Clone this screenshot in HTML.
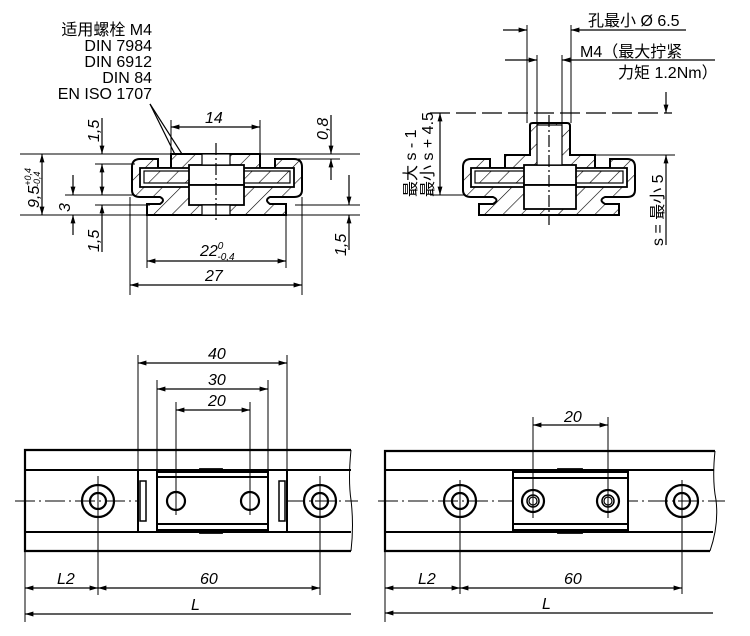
<!DOCTYPE html>
<html><head><meta charset="utf-8"><style>
html,body{margin:0;padding:0;background:#fff}
svg{display:block}
text{font-family:"Liberation Sans","Noto Sans CJK SC",sans-serif;fill:#000}
</style></head><body>
<svg width="750" height="636" viewBox="0 0 750 636" xmlns="http://www.w3.org/2000/svg">
<defs>
<pattern id="h" patternUnits="userSpaceOnUse" width="13" height="13" patternTransform="rotate(45)">
<rect width="13" height="13" fill="#fff"/><line x1="0" y1="0" x2="0" y2="13" stroke="#000" stroke-width="1.2"/></pattern>
<marker id="a" viewBox="0 0 12 10" refX="12" refY="5" markerWidth="12" markerHeight="7" orient="auto-start-reverse" markerUnits="userSpaceOnUse"><path d="M0,1.5 L12,5 L0,8.5z" fill="#000"/></marker>
</defs>
<g font-size="16" text-anchor="end">
<text x="152" y="35">适用螺栓 M4</text>
<text x="152" y="51">DIN 7984</text>
<text x="152" y="67">DIN 6912</text>
<text x="152" y="83">DIN 84</text>
<text x="152" y="99">EN ISO 1707</text>
</g>
<g stroke="#000" fill="none" stroke-width="1.2">
<line x1="150" y1="104" x2="205" y2="190"/><line x1="150" y1="104" x2="200" y2="205"/>

<!-- TL part -->
<path d="M140,159 H158 V168 H171 V154 H260 V168 H275 V159 H294 Q302,159 302,167 V190 Q302,197 294,197 H270 Q264,200 270,204 H286 V215 H147 V204 H160 Q166,200 160,197 H140 Q132,197 132,190 V167 Q132,159 140,159Z" fill="url(#h)" stroke-width="2"/>
<rect x="140" y="168" width="154" height="19" fill="#fff" stroke-width="1.8"/>
<rect x="144" y="171" width="146" height="12" fill="url(#h)" stroke-width="1.2"/>
<rect x="189" y="165" width="55" height="20" fill="#fff" stroke-width="1.8"/>
<rect x="189" y="185" width="55" height="20" fill="#fff" stroke-width="1.8"/>
<rect x="202" y="154" width="28" height="11" fill="#fff"/>
<rect x="202" y="205" width="28" height="10" fill="#fff"/>
<line x1="216" y1="143" x2="216" y2="222" stroke-dasharray="12,3,2,3"/>
<!-- TL dims -->
<line x1="20" y1="154" x2="360" y2="154" stroke-width="1"/>
<line x1="20" y1="215" x2="360" y2="215" stroke-width="1"/>
<line x1="95" y1="164" x2="135" y2="164" stroke-width="1"/>
<line x1="65" y1="195" x2="135" y2="195" stroke-width="1"/>
<line x1="95" y1="205" x2="150" y2="205" stroke-width="1"/>
<line x1="295" y1="159" x2="340" y2="159" stroke-width="1"/>
<line x1="295" y1="205" x2="360" y2="205" stroke-width="1"/>
<line x1="42" y1="154" x2="42" y2="215" marker-start="url(#a)" marker-end="url(#a)"/>
<line x1="73" y1="175" x2="73" y2="195" marker-end="url(#a)"/>
<line x1="73" y1="235" x2="73" y2="215" marker-end="url(#a)"/>
<line x1="102" y1="118" x2="102" y2="154" marker-end="url(#a)"/>
<line x1="102" y1="164" x2="102" y2="195" marker-start="url(#a)" marker-end="url(#a)"/>
<line x1="102" y1="252" x2="102" y2="205" marker-end="url(#a)"/>
<line x1="331" y1="115" x2="331" y2="154" marker-end="url(#a)"/>
<line x1="331" y1="180" x2="331" y2="159" marker-end="url(#a)"/>
<line x1="349" y1="175" x2="349" y2="205" marker-end="url(#a)"/>
<line x1="349" y1="250" x2="349" y2="215" marker-end="url(#a)"/>
<line x1="171" y1="120" x2="171" y2="154" stroke-width="1"/>
<line x1="260" y1="120" x2="260" y2="154" stroke-width="1"/>
<line x1="171" y1="127" x2="260" y2="127" marker-start="url(#a)" marker-end="url(#a)"/>
<line x1="147" y1="215" x2="147" y2="268" stroke-width="1"/>
<line x1="286" y1="215" x2="286" y2="268" stroke-width="1"/>
<line x1="147" y1="261" x2="286" y2="261" marker-start="url(#a)" marker-end="url(#a)"/>
<line x1="130" y1="197" x2="130" y2="295" stroke-width="1"/>
<line x1="302" y1="197" x2="302" y2="295" stroke-width="1"/>
<line x1="130" y1="285" x2="302" y2="285" marker-start="url(#a)" marker-end="url(#a)"/>
</g>
<g font-size="16" font-style="italic">
<text x="205" y="123">14</text>
<text x="200" y="256">22<tspan font-size="10" dy="-7">0</tspan><tspan font-size="10" dx="-6" dy="11">-0,4</tspan></text>
<text x="205" y="281">27</text>
<text transform="translate(39,208) rotate(-90)">9,5<tspan font-size="9" dy="-8">+0,4</tspan><tspan font-size="9" dx="-19" dy="9">-0,4</tspan></text>
<text transform="translate(70,212) rotate(-90)">3</text>
<text transform="translate(99,142) rotate(-90)">1,5</text>
<text transform="translate(99,252) rotate(-90)">1,5</text>
<text transform="translate(328,140) rotate(-90)">0,8</text>
<text transform="translate(346,256) rotate(-90)">1,5</text>
</g>

<!-- ===== TOP RIGHT ===== -->
<g stroke="#000" fill="none" stroke-width="1.2">
<path d="M471,159 H490 V168 H505 V155 H530 V125 Q530,123 533,123 H567 Q570,123 570,126 V155 H595 V168 H610 V159 H627 Q635,159 635,167 V190 Q635,197 627,197 H605 Q598,200 605,204 H619 V215 H479 V204 H493 Q500,200 493,197 H471 Q463,197 463,190 V167 Q463,159 471,159Z" fill="url(#h)" stroke-width="2"/>
<rect x="471" y="168" width="156" height="19" fill="#fff" stroke-width="1.8"/>
<rect x="475" y="171" width="148" height="12" fill="url(#h)"/>
<rect x="524" y="165" width="52" height="20" fill="#fff" stroke-width="1.8"/>
<rect x="524" y="185" width="52" height="24" fill="#fff" stroke-width="1.8"/>
<rect x="537" y="125" width="25" height="40" fill="#fff"/>
<line x1="549" y1="115" x2="549" y2="225" stroke-dasharray="12,3,2,3"/>
<line x1="527" y1="25" x2="527" y2="123" stroke-width="1"/>
<line x1="571" y1="25" x2="571" y2="123" stroke-width="1"/>
<line x1="537" y1="55" x2="537" y2="125" stroke-width="1"/>
<line x1="562" y1="55" x2="562" y2="125" stroke-width="1"/>
<line x1="503" y1="30" x2="527" y2="30" marker-end="url(#a)"/>
<line x1="686" y1="30" x2="571" y2="30" marker-end="url(#a)"/>
<line x1="505" y1="60" x2="537" y2="60" marker-end="url(#a)"/>
<line x1="715" y1="60" x2="562" y2="60" marker-end="url(#a)"/>
<line x1="430" y1="113" x2="672" y2="113" stroke-dasharray="20,6"/>
<line x1="430" y1="195" x2="465" y2="195" stroke-width="1"/>
<line x1="440" y1="113" x2="440" y2="195" marker-start="url(#a)" marker-end="url(#a)"/>
<line x1="580" y1="155" x2="675" y2="155" stroke-width="1"/>
<line x1="666" y1="92" x2="666" y2="113" marker-end="url(#a)"/>
<line x1="666" y1="245" x2="666" y2="155" marker-end="url(#a)"/>
</g>
<g font-size="16">
<text x="588" y="26">孔最小 Ø 6.5</text>
<text x="580" y="57">M4（最大拧紧</text>
<text x="618" y="78">力矩 1.2Nm）</text>
<text transform="translate(416,197) rotate(-90)">最大 s - 1</text>
<text transform="translate(433,197) rotate(-90)">最小 s + 4.5</text>
<text transform="translate(663,246) rotate(-90)">s = 最小 5</text>
</g>

<!-- ===== BOTTOM LEFT ===== -->
<g stroke="#000" fill="none" stroke-width="1.2">
<path d="M351,450 H25 V551 H351" stroke-width="2.2"/>
<path d="M351,450 Q348,480 351,500 Q354,525 351,551" stroke-width="1"/>
<line x1="25" y1="470" x2="351" y2="470" stroke-width="2"/>
<line x1="25" y1="532" x2="351" y2="532" stroke-width="2"/>
<line x1="15" y1="501" x2="358" y2="501" stroke-dasharray="20,4,2,4" stroke-width="1"/>
<rect x="138" y="470" width="149" height="62" fill="#fff" stroke-width="2"/>
<rect x="157" y="472" width="111" height="58" stroke-width="2"/>
<line x1="157" y1="477" x2="268" y2="477" stroke-width="2"/>
<line x1="157" y1="524" x2="268" y2="524" stroke-width="2"/>
<path d="M200,472 V469 H222 V472 M200,530 V533 H222 V530" stroke-width="1.8"/>
<rect x="140" y="481" width="6" height="40" stroke-width="1.5"/>
<rect x="279" y="481" width="6" height="40" stroke-width="1.5"/>
<circle cx="98" cy="501" r="16" stroke-width="2.2"/><circle cx="98" cy="501" r="8" stroke-width="2.2"/>
<circle cx="320" cy="501" r="16" stroke-width="2.2"/><circle cx="320" cy="501" r="8" stroke-width="2.2"/>
<circle cx="176" cy="501" r="9" stroke-width="2.2"/><circle cx="250" cy="501" r="9" stroke-width="2.2"/>
<line x1="98" y1="476" x2="98" y2="595" stroke-width="1"/>
<line x1="320" y1="476" x2="320" y2="595" stroke-width="1"/>
<line x1="25" y1="551" x2="25" y2="622" stroke-width="1"/>
<line x1="138" y1="355" x2="138" y2="470" stroke-width="1"/>
<line x1="287" y1="355" x2="287" y2="470" stroke-width="1"/>
<line x1="157" y1="380" x2="157" y2="472" stroke-width="1"/>
<line x1="268" y1="380" x2="268" y2="472" stroke-width="1"/>
<line x1="176" y1="402" x2="176" y2="515" stroke-width="1"/>
<line x1="250" y1="402" x2="250" y2="515" stroke-width="1"/>
<line x1="138" y1="363" x2="287" y2="363" marker-start="url(#a)" marker-end="url(#a)"/>
<line x1="157" y1="389" x2="268" y2="389" marker-start="url(#a)" marker-end="url(#a)"/>
<line x1="176" y1="410" x2="250" y2="410" marker-start="url(#a)" marker-end="url(#a)"/>
<line x1="25" y1="588" x2="98" y2="588" marker-start="url(#a)" marker-end="url(#a)"/>
<line x1="98" y1="588" x2="320" y2="588" marker-start="url(#a)" marker-end="url(#a)"/>
<line x1="25" y1="614" x2="351" y2="614" marker-start="url(#a)"/>

<!-- ===== BOTTOM RIGHT ===== -->
<path d="M715,451 H385 V551 H710" stroke-width="2.2"/>
<path d="M715,451 Q712,480 716,500 Q719,525 710,551" stroke-width="1"/>
<line x1="385" y1="470" x2="714" y2="470" stroke-width="2"/>
<line x1="385" y1="532" x2="713" y2="532" stroke-width="2"/>
<line x1="378" y1="501" x2="725" y2="501" stroke-dasharray="20,4,2,4" stroke-width="1"/>
<rect x="513" y="472" width="115" height="58" fill="#fff" stroke-width="2"/>
<line x1="513" y1="478" x2="628" y2="478" stroke-width="2"/>
<line x1="513" y1="524" x2="628" y2="524" stroke-width="2"/>
<path d="M558,472 V469 H582 V472 M558,530 V533 H582 V530" stroke-width="1.8"/>
<circle cx="460" cy="501" r="16" stroke-width="2.2"/><circle cx="460" cy="501" r="8" stroke-width="2.2"/>
<circle cx="682" cy="501" r="16" stroke-width="2.2"/><circle cx="682" cy="501" r="8" stroke-width="2.2"/>
<circle cx="533" cy="501" r="11" stroke-width="2.2"/><circle cx="533" cy="501" r="6" stroke-width="1.5"/><circle cx="533" cy="501" r="4"/>
<circle cx="608" cy="501" r="11" stroke-width="2.2"/><circle cx="608" cy="501" r="6" stroke-width="1.5"/><circle cx="608" cy="501" r="4"/>
<line x1="460" y1="480" x2="460" y2="594" stroke-width="1"/>
<line x1="682" y1="480" x2="682" y2="594" stroke-width="1"/>
<line x1="385" y1="551" x2="385" y2="622" stroke-width="1"/>
<line x1="533" y1="417" x2="533" y2="518" stroke-width="1"/>
<line x1="608" y1="417" x2="608" y2="518" stroke-width="1"/>
<line x1="533" y1="425" x2="608" y2="425" marker-start="url(#a)" marker-end="url(#a)"/>
<line x1="385" y1="588" x2="460" y2="588" marker-start="url(#a)" marker-end="url(#a)"/>
<line x1="460" y1="588" x2="682" y2="588" marker-start="url(#a)" marker-end="url(#a)"/>
<line x1="385" y1="613" x2="713" y2="613" marker-start="url(#a)"/>
</g>
<g font-size="16" font-style="italic">
<text x="208" y="359">40</text>
<text x="208" y="385">30</text>
<text x="208" y="406">20</text>
<text x="57" y="584">L2</text>
<text x="200" y="584">60</text>
<text x="191" y="610">L</text>
<text x="564" y="422">20</text>
<text x="418" y="584">L2</text>
<text x="564" y="584">60</text>
<text x="542" y="609">L</text>
</g>
</svg>
</body></html>
